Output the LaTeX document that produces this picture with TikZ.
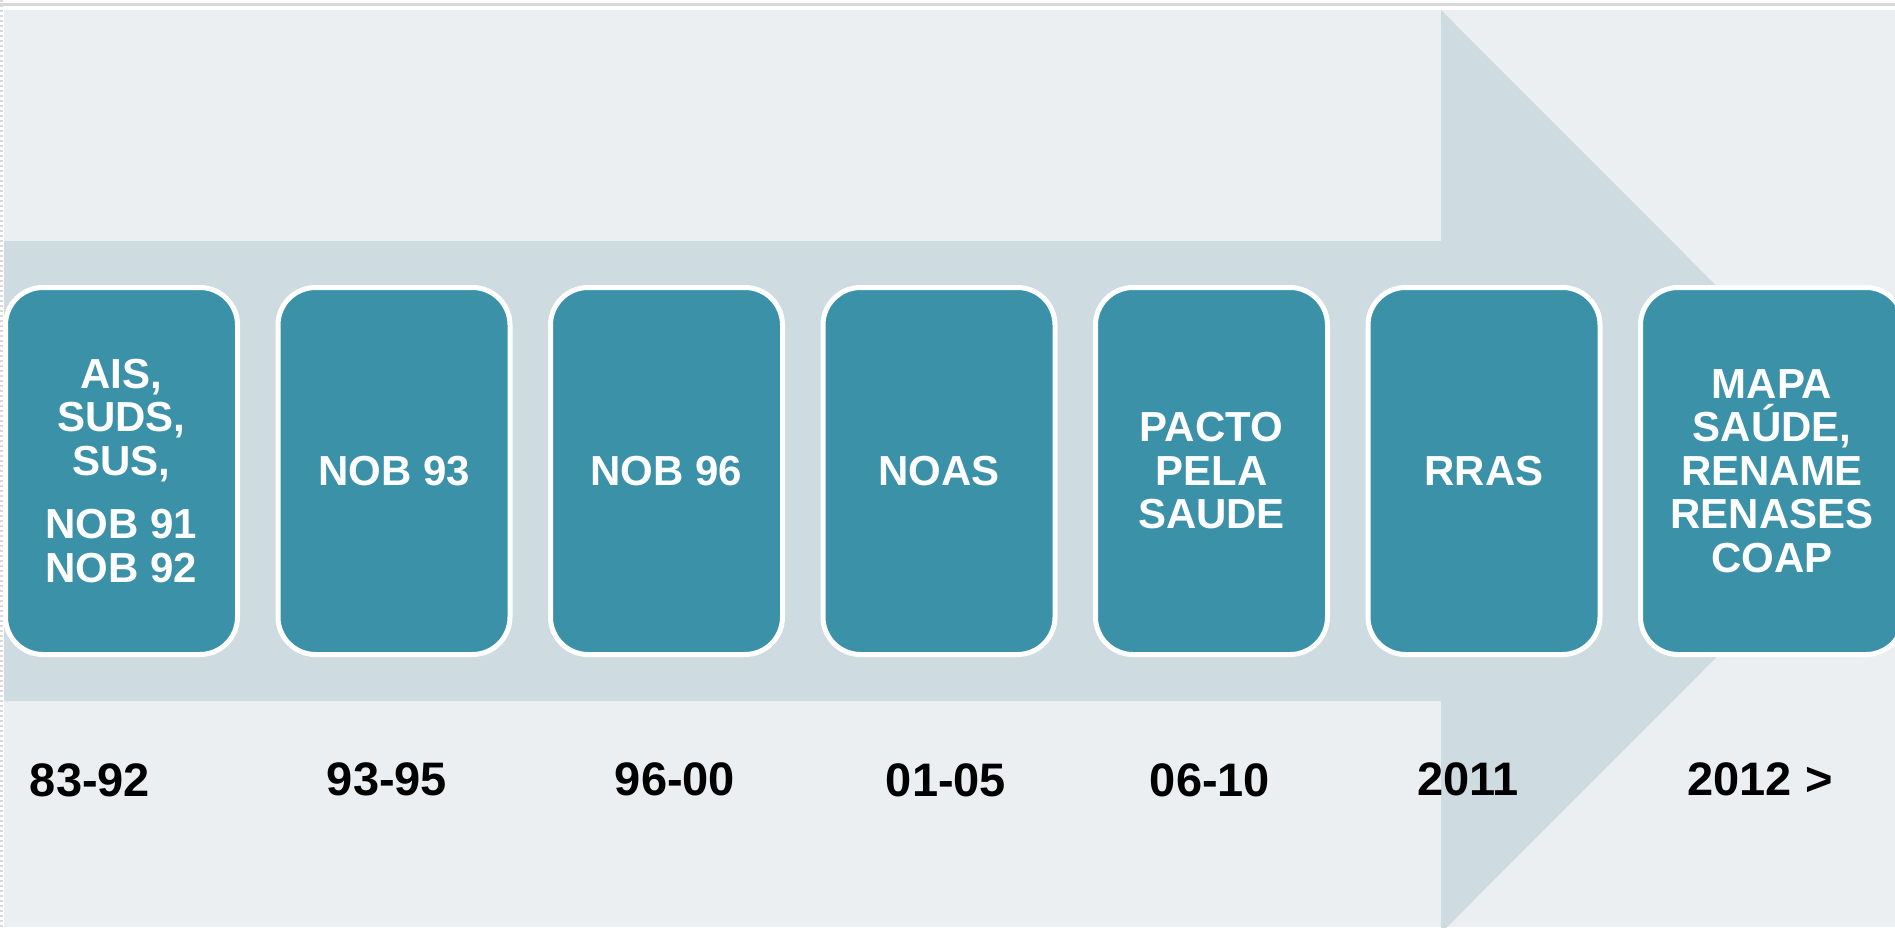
\documentclass[tikz,border=0pt]{standalone}
\usepackage{fontspec}
\setmainfont{Liberation Sans}
\definecolor{bgc}{HTML}{EBEFF2}
\definecolor{bandc}{HTML}{CEDBE1}
\definecolor{tealc}{HTML}{3A91A8}
\definecolor{framec}{HTML}{D9D9D9}
\begin{document}
\begin{tikzpicture}[x=0.5pt,y=-0.5pt,
  stage/.style={rectangle, rounded corners=18.75pt, fill=tealc, draw=white, line width=2.5pt,
    inner sep=0pt, minimum width=116pt, minimum height=183.5pt, align=center, text=white,
    font=\bfseries\fontsize{21}{21.75}\selectfont},
  period/.style={anchor=base, inner sep=0pt, text=black,
    font=\bfseries\fontsize{23.5}{28}\selectfont}]
\useasboundingbox (0,0) rectangle (1895,927);
\clip (0,0) rectangle (1895,927);
\fill[white] (0,0) rectangle (1895,927);
\draw[framec, line width=1.5pt] (0,4.2) -- (1895,4.2);
\draw[framec, line width=1.5pt, dash pattern=on 1pt off 1.5pt] (1.5,0) -- (1.5,927);
\fill[bgc] (4,10) rectangle (1895,927);
\fill[bandc] (4,241) -- (1441,241) -- (1441,10) -- (1902,471.5) -- (1441,933) -- (1441,701) -- (4,701) -- cycle;

\node[stage] (s1) at (121.5,471) {AIS,\\SUDS,\\SUS,\\[10pt]NOB 91\\NOB 92};
\node[stage] (s2) at (394,471) {NOB 93};
\node[stage] (s3) at (666.5,471) {NOB 96};
\node[stage] (s4) at (939,471) {NOAS};
\node[stage] (s5) at (1211.5,471) {PACTO\\PELA\\SAUDE};
\node[stage] (s6) at (1484,471) {RRAS};
\node[stage, minimum width=131.5pt] (s7) at (1772,471) {MAPA\\SAÚDE,\\RENAME\\RENASES\\COAP};

\node[period] (p1) at (90,796) {83-92};
\node[period] (p2) at (387,795) {93-95};
\node[period] (p3) at (675,795) {96-00};
\node[period] (p4) at (946,796) {01-05};
\node[period] (p5) at (1210,796) {06-10};
\node[period] (p6) at (1468,795) {2011};
\node[period] (p7) at (1760,795) {2012 >};
\end{tikzpicture}
\end{document}
